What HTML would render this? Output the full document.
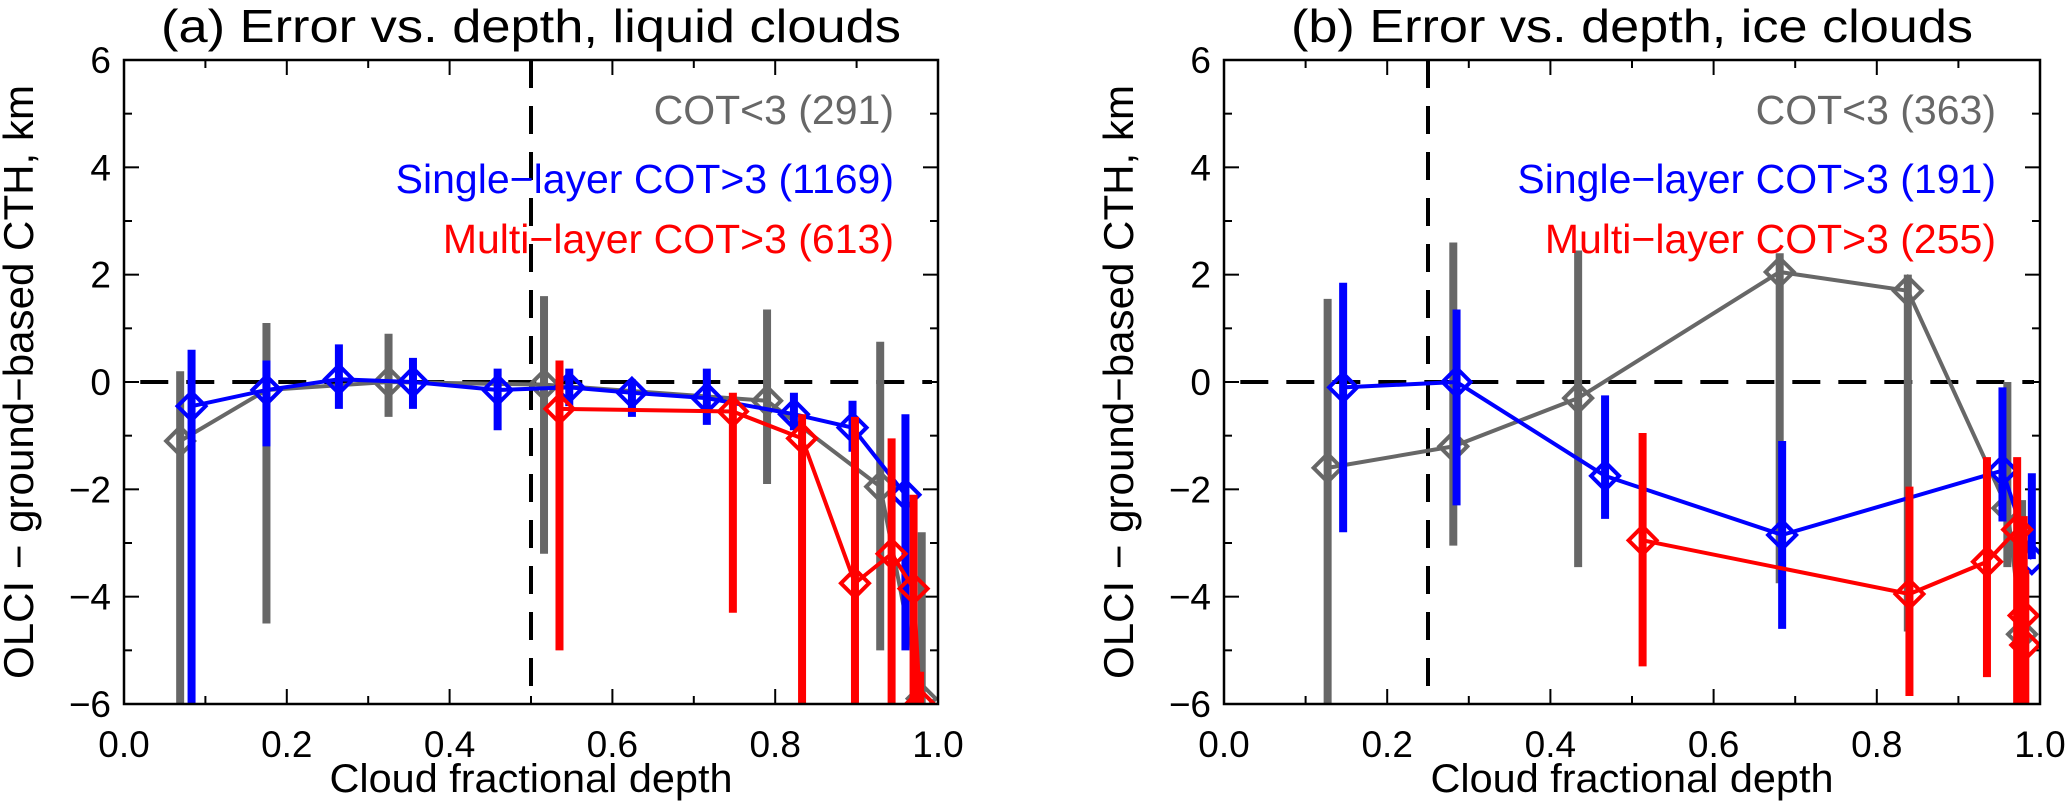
<!DOCTYPE html>
<html><head><meta charset="utf-8"><style>
html,body{margin:0;padding:0;background:#fff;}
svg{display:block;font-family:"Liberation Sans",sans-serif;}
</style></head><body>
<svg id="chart" width="2067" height="811" viewBox="0 0 2067 811" xmlns="http://www.w3.org/2000/svg"></svg>
<script>
// ---- Panel (a) liquid clouds data ----
const aGrayX  = [0.069, 0.175, 0.325, 0.516, 0.79, 0.929, 0.98];
const aGrayY  = [-1.1, -0.15, 0.0, -0.05, -0.35, -1.95, -5.9];
const aGrayHi = [0.2, 1.1, 0.9, 1.6, 1.35, 0.75, -2.8];
const aGrayLo = [-6, -4.5, -0.65, -3.2, -1.9, -5.0, -6];
const aBlueX  = [0.083, 0.175, 0.264, 0.355, 0.459, 0.547, 0.624, 0.716, 0.823, 0.895, 0.96];
const aBlueY  = [-0.45, -0.15, 0.05, 0.0, -0.15, -0.1, -0.2, -0.3, -0.6, -0.85, -2.1];
const aBlueHi = [0.6, 0.4, 0.7, 0.45, 0.25, 0.25, 0.05, 0.25, -0.2, -0.35, -0.6];
const aBlueLo = [-6, -1.2, -0.5, -0.5, -0.9, -0.45, -0.65, -0.8, -0.9, -1.3, -5.0];
const aRedX   = [0.535, 0.748, 0.833, 0.898, 0.943, 0.97, 0.978];
const aRedY   = [-0.5, -0.55, -1.05, -3.75, -3.2, -3.85, -6.0];
const aRedHi  = [0.4, -0.2, -0.6, -0.65, -1.05, -2.1, -5.4];
const aRedLo  = [-5.0, -4.3, -6, -6, -6, -6, -6];
// ---- Panel (b) ice clouds data ----
const bGrayX  = [0.127, 0.281, 0.434, 0.681, 0.838, 0.96, 0.978];
const bGrayY  = [-1.6, -1.2, -0.3, 2.05, 1.7, -2.35, -4.7];
const bGrayHi = [1.55, 2.6, 2.45, 2.4, 2.0, 0.0, -2.2];
const bGrayLo = [-6, -3.05, -3.45, -3.75, -4.65, -3.45, -5.6];
const bBlueX  = [0.146, 0.285, 0.467, 0.684, 0.954, 0.99];
const bBlueY  = [-0.1, 0.0, -1.75, -2.85, -1.65, -3.3];
const bBlueHi = [1.85, 1.35, -0.25, -1.1, -0.1, -1.7];
const bBlueLo = [-2.8, -2.3, -2.55, -4.6, -2.6, -3.3];
const bRedX   = [0.513, 0.84, 0.935, 0.972, 0.98, 0.982];
const bRedY   = [-2.95, -3.95, -3.35, -2.75, -4.35, -4.9];
const bRedHi  = [-0.95, -1.95, -1.4, -1.4, -2.5, -3.5];
const bRedLo  = [-5.3, -5.85, -5.5, -6, -6, -6];
// ---- axis tick labels ----
const xTickLabels = ["0.0", "0.2", "0.4", "0.6", "0.8", "1.0"];
const xTickVals = [0, 0.2, 0.4, 0.6, 0.8, 1.0];
const yTickVals = [6, 4, 2, 0, -2, -4, -6];
const yTickLabels = ["6", "4", "2", "0", "\u22122", "\u22124", "\u22126"];

const NS = "http://www.w3.org/2000/svg";
const svg = document.getElementById("chart");
function mk(tag, attrs, parent) {
  const e = document.createElementNS(NS, tag);
  for (const k in attrs) e.setAttribute(k, attrs[k]);
  (parent || svg).appendChild(e);
  return e;
}
const GRAY = "#676767", BLUE = "#0000ff", RED = "#ff0000";
const TOP = 60, BOT = 704;

function panel(id, L, R, title, titleLen, vline, series, legend) {
  const g = mk("g", {});
  
  
  const sx = v => L + (R - L) * v;
  const sy = v => TOP + (6 - v) * (BOT - TOP) / 12;
  const clip = mk("clipPath", {id: "clip" + id}, g);
  mk("rect", {x: L, y: TOP, width: R - L, height: BOT - TOP}, clip);
  // title
  const t = mk("text", {x: (L + R) / 2, y: 42, "font-size": 46, "text-anchor": "middle", textLength: titleLen, lengthAdjust: "spacingAndGlyphs"}, g);
  t.textContent = title;
  
  
  // axes labels
  const xl = mk("text", {x: (L + R) / 2, y: 792, "font-size": 40, "text-anchor": "middle", textLength: 403, lengthAdjust: "spacingAndGlyphs"}, g);
  xl.textContent = "Cloud fractional depth";
  
  
  const yx = L - 91;
  const yl = mk("text", {x: 0, y: 0, "font-size": 42, "text-anchor": "middle", textLength: 594, lengthAdjust: "spacingAndGlyphs", transform: "translate(" + yx + "," + 382 + ") rotate(-90)"}, g);
  yl.textContent = "OLCI \u2212 ground\u2212based CTH, km";
  
  
  // ticks
  for (let i = 0; i <= 10; i++) {
    const x = sx(i / 10), len = i % 2 === 0 ? 15 : 8;
    mk("line", {x1: x, x2: x, y1: BOT, y2: BOT - len, stroke: "#000", "stroke-width": 2}, g);
    mk("line", {x1: x, x2: x, y1: TOP, y2: TOP + len, stroke: "#000", "stroke-width": 2}, g);
  }
  for (let v = -6; v <= 6; v++) {
    const y = sy(v), len = v % 2 === 0 ? 15 : 8;
    mk("line", {x1: L, x2: L + len, y1: y, y2: y, stroke: "#000", "stroke-width": 2}, g);
    mk("line", {x1: R, x2: R - len, y1: y, y2: y, stroke: "#000", "stroke-width": 2}, g);
  }
  xTickVals.forEach((v, i) => {
    const tx = mk("text", {x: sx(v), y: 757, "font-size": 37, "text-anchor": "middle"}, g);
    tx.textContent = xTickLabels[i];
    
    
  });
  yTickVals.forEach((v, i) => {
    const ty = mk("text", {x: L - 13, y: sy(v) + 13, "font-size": 37, "text-anchor": "end"}, g);
    ty.textContent = yTickLabels[i];
    
    
  });
  // reference lines
  const zl = mk("line", {x1: sx(0.02), x2: R - 6, y1: sy(0), y2: sy(0), stroke: "#000", "stroke-width": 4, "stroke-dasharray": "28 18"}, g);
  
  
  const vl = mk("line", {x1: sx(vline), x2: sx(vline), y1: TOP, y2: BOT, stroke: "#000", "stroke-width": 4, "stroke-dasharray": "28 18"}, g);
  
  
  // series
  const dg = mk("g", {"clip-path": "url(#clip" + id + ")"}, g);
  series.forEach(s => {
    const sg = mk("g", {}, dg);
    
    
    s.x.forEach((xv, i) => {
      const eb = mk("line", {x1: sx(xv), x2: sx(xv), y1: sy(s.hi[i]), y2: sy(s.lo[i]), stroke: s.c, "stroke-width": 8}, sg);
      
      
    });
    const pts = s.x.map((xv, i) => sx(xv) + "," + sy(s.y[i])).join(" ");
    const pl = mk("polyline", {points: pts, fill: "none", stroke: s.c, "stroke-width": 4}, sg);
    
    
    s.x.forEach((xv, i) => {
      const cx = sx(xv), cy = sy(s.y[i]), r = 14;
      const d = mk("polygon", {points: `${cx},${cy - r} ${cx + r},${cy} ${cx},${cy + r} ${cx - r},${cy}`, fill: "none", stroke: s.c, "stroke-width": 4}, sg);
      
      
    });
  });
  // frame
  const fr = mk("rect", {x: L, y: TOP, width: R - L, height: BOT - TOP, fill: "none", stroke: "#000", "stroke-width": 2.5}, g);
  
  
  // legend
  const ys = [124, 193, 253], cs = [GRAY, BLUE, RED];
  legend.forEach((txt, i) => {
    const lt = mk("text", {x: R - 44, y: ys[i], "font-size": 41, "text-anchor": "end", fill: cs[i]}, g);
    lt.textContent = txt;
    
    
  });
}

panel("a", 124, 938, "(a) Error vs. depth, liquid clouds", 740, 0.5, [
  {name: "series-cot-lt-3", c: GRAY, x: aGrayX, y: aGrayY, hi: aGrayHi, lo: aGrayLo},
  {name: "series-single-layer", c: BLUE, x: aBlueX, y: aBlueY, hi: aBlueHi, lo: aBlueLo},
  {name: "series-multi-layer", c: RED, x: aRedX, y: aRedY, hi: aRedHi, lo: aRedLo}
], ["COT<3 (291)", "Single\u2212layer COT>3 (1169)", "Multi\u2212layer COT>3 (613)"]);

panel("b", 1224, 2040, "(b) Error vs. depth, ice clouds", 682, 0.25, [
  {name: "series-cot-lt-3", c: GRAY, x: bGrayX, y: bGrayY, hi: bGrayHi, lo: bGrayLo},
  {name: "series-single-layer", c: BLUE, x: bBlueX, y: bBlueY, hi: bBlueHi, lo: bBlueLo},
  {name: "series-multi-layer", c: RED, x: bRedX, y: bRedY, hi: bRedHi, lo: bRedLo}
], ["COT<3 (363)", "Single\u2212layer COT>3 (191)", "Multi\u2212layer COT>3 (255)"]);
</script>
</body></html>
